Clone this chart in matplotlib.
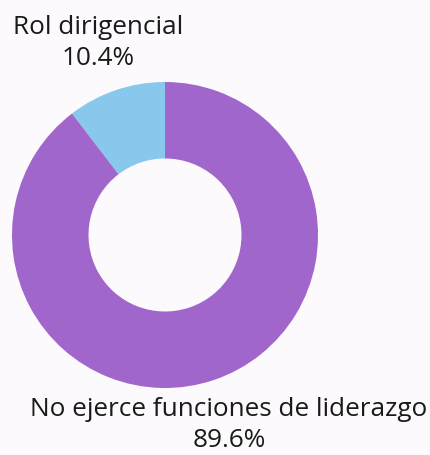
import matplotlib
matplotlib.use('Agg')

import matplotlib.pyplot as plt

categories = ["Rol dirigencial", "No ejerce funciones de liderazgo"]
shares = [10.4, 89.6]
colors = ["#87c8ec", "#a066cb"]

BG = "#fcfafc"

fig = plt.figure(figsize=(4.3, 4.55), dpi=100, facecolor=BG)
W, H = 430, 455

# donut centre at (165, 235) px, outer radius 153 px
cx, cy, r = 165, 235, 153
ax = fig.add_axes([(cx - r) / W, (H - cy - r) / H, 2 * r / W, 2 * r / H])
ax.set_facecolor(BG)
ax.pie(shares, colors=colors, startangle=90, counterclock=True, radius=1,
       wedgeprops=dict(width=0.5, edgecolor="none", linewidth=0))
ax.set_xlim(-1, 1)
ax.set_ylim(-1, 1)
ax.set_aspect("equal")
ax.axis("off")

label_pos = [(98, 43), (229, 425)]
for name, val, (x, y) in zip(categories, shares, label_pos):
    fig.text(x / W, 1 - y / H, f"{name}\n{val:.1f}%", ha="center", va="center",
             multialignment="center", fontsize=18.8, color="#1a1a1a",
             family="Open Sans", linespacing=1.36)

fig.savefig("out.png", dpi=100, facecolor=BG)
